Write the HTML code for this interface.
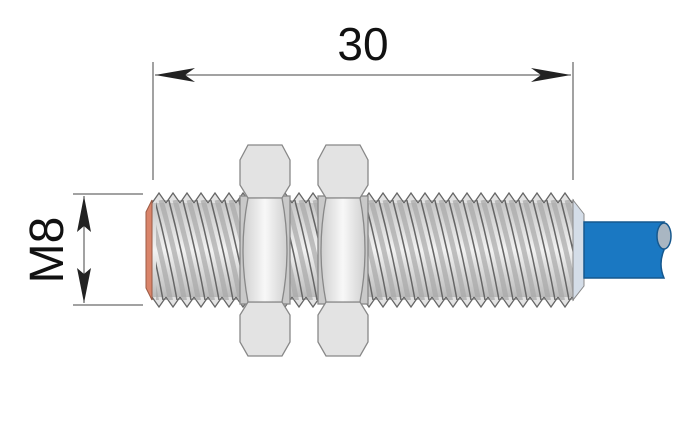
<!DOCTYPE html>
<html><head><style>body{margin:0;background:#fff}</style></head><body>
<svg width="700" height="420" viewBox="0 0 700 420" xmlns="http://www.w3.org/2000/svg">
<defs>
<linearGradient id="th" x1="0" y1="0" x2="0" y2="1"><stop offset="0" stop-color="#c4c4c4"/><stop offset="0.5" stop-color="#f2f2f2"/><stop offset="1" stop-color="#b8b8b8"/></linearGradient>
<linearGradient id="nut" x1="0" y1="0" x2="1" y2="0"><stop offset="0" stop-color="#d0d0d0"/><stop offset="0.5" stop-color="#f8f8f8"/><stop offset="1" stop-color="#d0d0d0"/></linearGradient>
<pattern id="thr" patternUnits="userSpaceOnUse" width="14" height="420">
<path d="M-21,200 Q-7,250 3,303 M-7,200 Q7,250 17,303 M7,200 Q21,250 31,303" stroke="#a8a8a8" stroke-width="5" fill="none" opacity="0.7"/>
<path d="M-28,197 Q-14,250 -4,305 M-14,197 Q0,250 10,305 M0,197 Q14,250 24,305 M14,197 Q28,250 38,305" stroke="#666" stroke-width="1.5" fill="none"/>
</pattern>
<pattern id="zz" patternUnits="userSpaceOnUse" width="14" height="420" x="152">
<path d="M0,203 L7,193 L14,203 M0,297 L7,307 L14,297" stroke="#666" stroke-width="1.3" fill="#e2e2e2"/>
</pattern>
</defs>
<g stroke="#444" stroke-width="1">
<line x1="153" y1="62" x2="153" y2="180"/><line x1="573" y1="62" x2="573" y2="180"/>
<line x1="73" y1="194" x2="143" y2="194"/><line x1="73" y1="305" x2="143" y2="305"/>
<line x1="155" y1="75" x2="571" y2="75"/>
<line x1="84" y1="196" x2="84" y2="303"/>
</g>
<g fill="#222">
<polygon points="155,75 195,68 185,75 195,82"/>
<polygon points="571,75 531,68 541,75 531,82"/>
<polygon points="84,196 77,232 84,226 91,232"/>
<polygon points="84,303 77,268 84,274 91,268"/>
</g>
<text x="363" y="60" font-family="Liberation Sans, sans-serif" font-size="46" text-anchor="middle" fill="#111">30</text>
<text transform="translate(63,250) rotate(-90)" font-family="Liberation Sans, sans-serif" font-size="48" text-anchor="middle" fill="#111">M8</text>
<rect x="152" y="200" width="422" height="100" fill="url(#th)"/>
<rect x="152" y="190" width="422" height="120" fill="url(#zz)"/>
<rect x="156" y="200" width="418" height="100" fill="url(#thr)"/>
<path d="M573,200 L584,214 L584,286 L573,300 Z" fill="#d4dde8" stroke="#888"/>
<path d="M152,200 L146,212 L146,288 L152,300 Z" fill="#d9846a" stroke="#9a5a44"/>
<path d="M584,222 L664,222 Q656,234 664,250 Q658,264 664,278 L584,278 Z" fill="#1a78c2" stroke="#16588e" stroke-width="1.5"/>
<ellipse cx="664" cy="236" rx="7" ry="13" fill="#a9b6c2" stroke="#16588e" stroke-width="1.5"/>
<g stroke="#888" stroke-width="1.3">
<rect x="240" y="196" width="50" height="108" fill="#c9c9c9"/>
<path d="M248,145 L282,145 L290,160 L290,185 L282,198 L248,198 L240,185 L240,160 Z" fill="#e3e3e3"/>
<path d="M248,302 L282,302 L290,315 L290,342 L282,356 L248,356 L240,342 L240,315 Z" fill="#e3e3e3"/>
<path d="M248,198 L282,198 Q292,250 282,302 L248,302 Q238,250 248,198 Z" fill="url(#nut)"/>
<rect x="318" y="196" width="50" height="108" fill="#c9c9c9"/>
<path d="M326,145 L360,145 L368,160 L368,185 L360,198 L326,198 L318,185 L318,160 Z" fill="#e3e3e3"/>
<path d="M326,302 L360,302 L368,315 L368,342 L360,356 L326,356 L318,342 L318,315 Z" fill="#e3e3e3"/>
<path d="M326,198 L360,198 Q370,250 360,302 L326,302 Q316,250 326,198 Z" fill="url(#nut)"/>
</g>
</svg>
</body></html>
